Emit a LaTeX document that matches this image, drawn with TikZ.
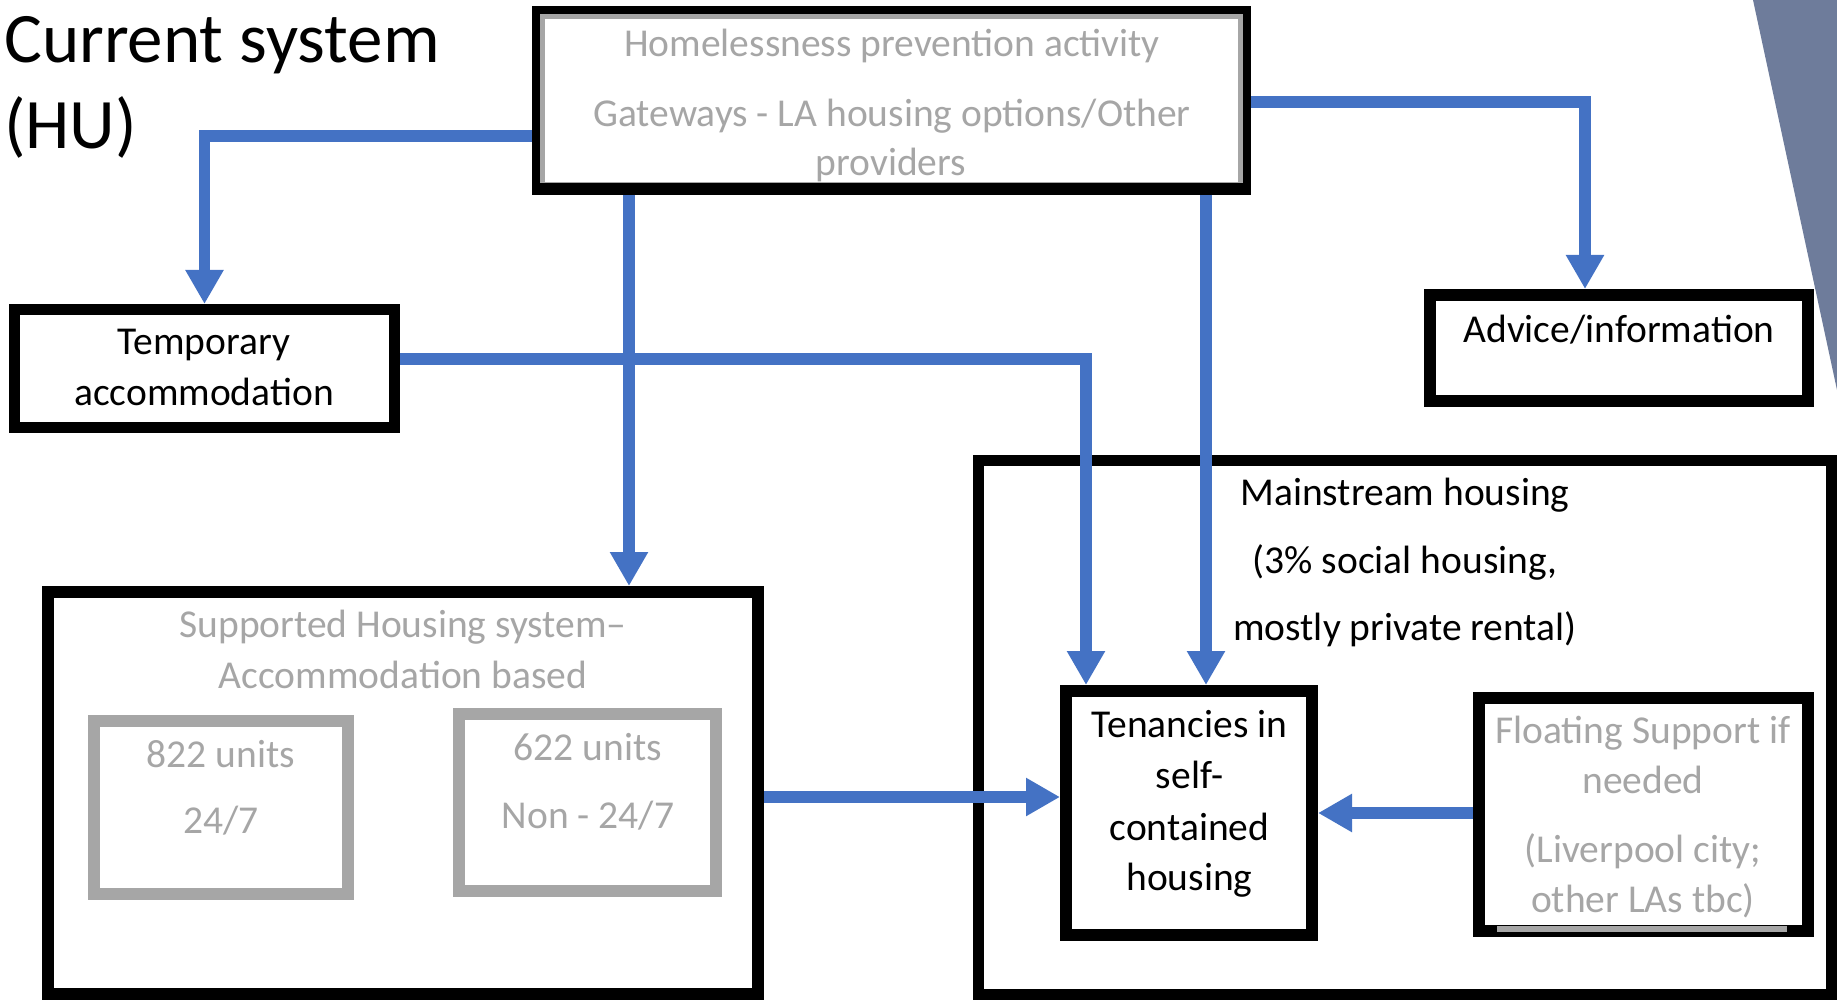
\documentclass[tikz,border=0pt]{standalone}
\usepackage{fontspec}
\setmainfont{Carlito}
\usetikzlibrary{arrows.meta}
\definecolor{arrblue}{HTML}{4472C4}
\definecolor{txtgray}{HTML}{A6A6A6}
\definecolor{slate}{HTML}{6E7C9B}
\begin{document}
\begin{tikzpicture}[x=1pt,y=-1pt,
  box/.style={draw=black, fill=white, line width=#1, inner sep=0pt, rectangle},
  box/.default=12pt,
  gbox/.style={draw=txtgray, fill=white, line width=12pt, inner sep=0pt, rectangle},
  txt/.style={font=\fontsize{39.5}{47}\selectfont, inner sep=0pt, anchor=base, text=black},
  gtxt/.style={txt, text=txtgray},
  ttl/.style={font=\fontsize{71}{82}\selectfont, inner sep=0pt, anchor=base west},
  arr/.style={draw=arrblue, line width=11.5pt, -{Triangle[width=36pt,length=34pt]}}]
\useasboundingbox (0,0) rectangle (1837,1000);
% decorative wedge
\fill[slate] (1753,0) -- (1837,0) -- (1837,390) -- cycle;
% title
\node[ttl] (t1) at (4,63) {Current system};
\node[ttl] (t2) at (4,149) {(HU)};
% boxes
\node[box=8pt, minimum width=711pt, minimum height=181pt] (top) at (891.5,100.5) {};
\draw[txtgray, line width=5pt] (542.5,16.5) rectangle (1240.5,185);
\fill[black] (532,183) rectangle (1251,195);
\node[box=11pt, minimum width=380pt, minimum height=118pt] (temp) at (204.5,368.5) {};
\node[box=12pt, minimum width=378pt, minimum height=106pt] (adv) at (1619,348) {};
\node[box=11pt, minimum width=853pt, minimum height=534pt] (main) at (1405,727.5) {};
\node[box=12pt, minimum width=710pt, minimum height=402pt] (sup) at (403,793) {};
\node[gbox, minimum width=254pt, minimum height=173pt] (b822) at (221,807.5) {};
\node[gbox, minimum width=257pt, minimum height=177pt] (b622) at (587.5,802.5) {};
\node[box=12pt, minimum width=246pt, minimum height=244pt] (ten) at (1189,813) {};
\node[box=12pt, minimum width=329pt, minimum height=233pt] (float) at (1643.5,814.5) {};
\fill[txtgray] (1497,926) rectangle (1787,932);
% texts
\node[gtxt] (h1) at (892,57) {Homelessness prevention activity};
\node[gtxt] (h2) at (892,127) {Gateways - LA housing options/Other};
\node[gtxt] (h3) at (891,176) {providers};
\node[txt] (tm1) at (204,355) {Temporary};
\node[txt] (tm2) at (204,405) {accommodation};
\node[txt] (ad1) at (1619,342) {Advice/information};
\node[txt] (m1) at (1405,505) {Mainstream housing};
\node[txt] (m2) at (1405,573) {(3\% social housing,};
\node[txt] (m3) at (1405,640) {mostly private rental)};
\node[txt] (te1) at (1189.5,737) {Tenancies in};
\node[txt] (te2) at (1189.5,788) {self-};
\node[txt] (te3) at (1189.5,840) {contained};
\node[txt] (te4) at (1189.5,890) {housing};
\node[gtxt] (f1) at (1643,743) {Floating Support if};
\node[gtxt] (f2) at (1643,793) {needed};
\node[gtxt] (f3) at (1643,862) {(Liverpool city;};
\node[gtxt] (f4) at (1643,912) {other LAs tbc)};
\node[gtxt] (s1) at (403,637) {Supported Housing system–};
\node[gtxt] (s2) at (403,688) {Accommodation based};
\node[gtxt] (u1) at (221,767) {822 units};
\node[gtxt] (u2) at (221,833) {24/7};
\node[gtxt] (v1) at (588,760) {622 units};
\node[gtxt] (v2) at (588,828) {Non - 24/7};
% connectors
\draw[arr] (top.west |- 0,136) -| (temp.north);
\draw[arr] (top.south -| 629,0) -- (sup.north -| 629,0);
\draw[arr] (top.south -| 1206,0) -- (ten.north -| 1206,0);
\draw[arr] (top.east |- 0,102) -| (adv.north -| 1585,0);
\draw[arr] (temp.east |- 0,359) -| (ten.north -| 1086,0);
\draw[arr] (sup.east |- 0,797) -- (ten.west |- 0,797);
\draw[arr] (float.west |- 0,813) -- (ten.east |- 0,813);
\end{tikzpicture}
\end{document}
